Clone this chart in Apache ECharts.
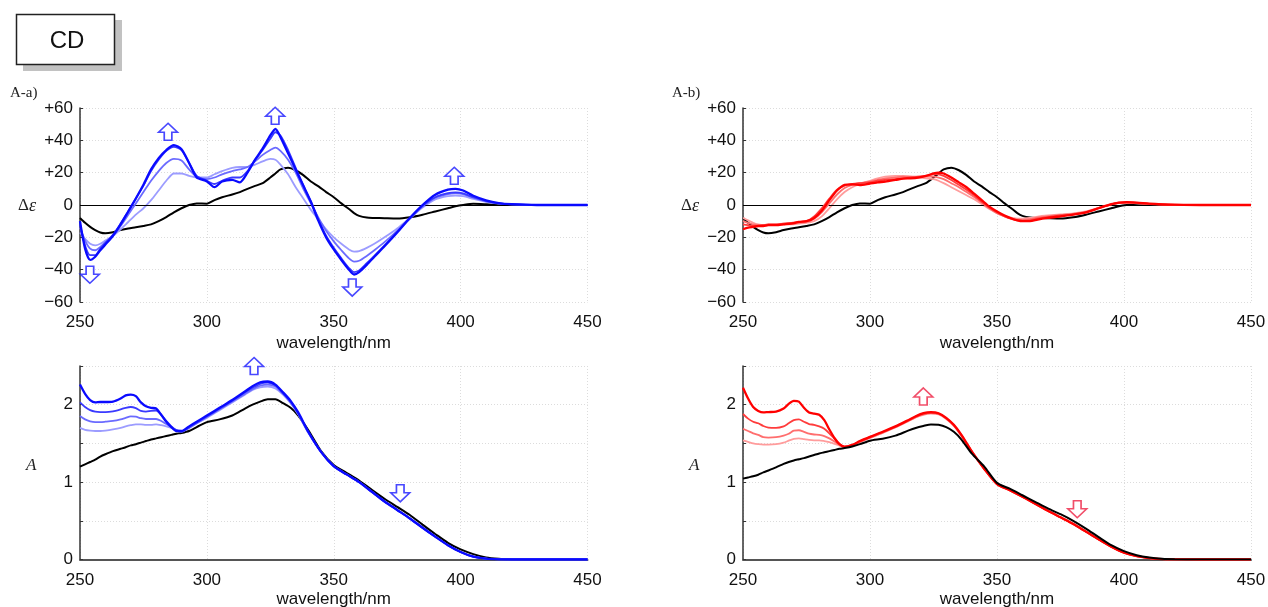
<!DOCTYPE html>
<html><head><meta charset="utf-8">
<script src="https://cdn.jsdelivr.net/npm/echarts@6/dist/echarts.min.js"></script>
<style>html,body{margin:0;padding:0;background:#fff}#c{width:1268px;height:607px}</style>
</head><body><div id="c"></div>
<script>
// ---------- DATA ----------
const wlCD = [250,252,254,256,258,260,263,266,269,272,275,278,281,284,287,290,293,296,300,303,306,310,313,316,319,322,325,327,329,332,335,338,341,344,347,350,353,356,358,360,363,366,370,375,380,385,390,395,398,401,405,410,415,420,430,440,450];
const cdRef = [-8,-11,-13.5,-15.5,-17,-17.5,-16.8,-15.5,-14.5,-13.8,-13,-12,-10,-7.5,-4.5,-2,0,1,0.8,3,4.8,6.5,8,10,11.8,13.5,17,19.5,22,23,21.5,18.5,14.5,11.5,8,4.8,1,-2.5,-5,-6.7,-7.8,-8,-8.2,-8.4,-7.6,-6,-4,-2,-0.8,0,0.7,0.5,0.2,0,0,0,0];
const cdA4 = [-10,-27,-34,-32,-28,-24.5,-19,-12,-4,4,12.5,22,29,34,37,34.5,26,17,14.6,11,14.5,15.6,14,20,28,35,43,47,42,32,22,12,2,-10,-20,-27.5,-34,-40,-43,-41.5,-37,-32,-25.5,-17,-8,0,6.4,9.5,10,9,5.7,2.9,1.2,0.5,0,0,0];
const cdA3 = [-12,-25,-31,-31,-27,-23.5,-18.5,-11.5,-4,4,12,21,28,33.5,36,34,26,18,15,13,15,17,17,21,28,34,41,45,43,34,23,12,2,-9,-19,-26.5,-33,-39,-41.5,-40.5,-36,-31.5,-25,-16.5,-8,-0.5,4.8,7.3,7.8,7.2,4.8,2.5,1,0.4,0,0,0];
const cdA2 = [-14,-22,-27,-28,-26,-23,-19,-13,-6,1,8,15,21,26,28.5,27.5,22,17.5,16,17,19,21,22,23.5,27,31,34,35.5,33.5,28,20,10,1,-8,-16,-22.5,-28,-33,-35,-34.5,-31.5,-28,-23,-16,-8.5,-1,4.5,6.8,7.2,6.8,4.5,2.3,1,0.4,0,0,0];
const cdA1 = [-17,-21,-24,-25,-24,-22,-19,-15,-10.5,-6,-2,3,9,15,19.5,19.5,18,17,17,19,21,23,23.5,23.5,25,27,28.5,28,25,19,11,4,-3,-9,-15,-20,-24,-27.5,-28.8,-28.5,-26.5,-24,-20,-14.5,-8,-1.5,3.5,5.5,5.8,5.5,3.8,2,0.9,0.3,0,0,0];
const cdB4 = [-15,-14,-13.5,-13,-13,-12.5,-12.5,-12,-11.5,-10.5,-10,-8,-3.5,3,9,12.5,12.8,12.3,13.3,14,14.5,15.5,16.3,16.5,17,18,19.5,20,19.5,17,14,11,7,3,-1,-4,-6.5,-8.5,-9.5,-10,-10,-9,-8,-7,-6,-4.6,-2,0.5,1.5,1.8,1.5,0.8,0.4,0.2,0,0,0];
const cdB3 = [-12,-12.5,-13,-13,-12.5,-12,-12,-11.5,-11,-10.5,-10,-7,-2,4,9.5,12,13,13.5,14,15,15.5,16,16.5,17,17.5,18,19,19,18,15.5,12.5,9.5,6,2,-1.5,-4.5,-7,-8.8,-9.5,-9.8,-9.5,-8.5,-7.5,-6.5,-5.8,-4.5,-2,0.4,1.4,1.6,1.3,0.7,0.3,0.1,0,0,0];
const cdB2 = [-10,-11,-12,-12.5,-12.5,-12,-12,-11.5,-11.5,-11,-10.5,-8.5,-4.5,1,6.5,10.5,12.5,13.5,14.5,15.5,16.5,17,17.5,17.5,17.5,17.5,17.5,17,16,13.5,11,8,5,1.5,-2,-5,-7,-8.5,-9,-9.2,-8.8,-7.8,-7,-6.2,-5.5,-4.2,-1.8,0.4,1.3,1.5,1.2,0.6,0.3,0.1,0,0,0];
const cdB1 = [-8,-9.5,-11,-12,-12.5,-12.5,-12.5,-12,-12,-11.5,-11,-10,-7,-2,3.5,8,11,13,15,16.5,17.5,18,18,17.5,17,16.5,16,15,13.5,11,8.5,6,3.5,0.5,-2.5,-5,-6.8,-8,-8.5,-8.5,-8,-7.2,-6.5,-5.8,-5.2,-4,-1.8,0.3,1.2,1.4,1.1,0.6,0.3,0.1,0,0,0];

const wlAbs = [250,252,254,256,258,260,263,266,268,270,272,274,276,278,280,282,284,286,288,290,293,296,300,305,310,315,318,321,324,327,330,333,336,340,345,350,355,360,365,370,375,380,385,390,395,400,405,410,415,420,430,440,450];
const absARef = [1.20,1.23,1.26,1.29,1.33,1.36,1.40,1.43,1.45,1.475,1.49,1.51,1.53,1.55,1.565,1.58,1.595,1.61,1.625,1.635,1.66,1.71,1.775,1.81,1.86,1.95,2.0,2.04,2.07,2.07,2.02,1.96,1.86,1.67,1.40,1.22,1.12,1.02,0.90,0.785,0.68,0.575,0.45,0.33,0.215,0.13,0.07,0.027,0.01,0.004,0,0,0];
const absATail = [1.39,1.205,1.10,1.0,0.875,0.75,0.64,0.53,0.41,0.295,0.185,0.097,0.036,0.01,0.002,0,0,0,0];
const absA4Head = [2.26,2.14,2.06,2.03,2.035,2.035,2.04,2.08,2.12,2.13,2.11,2.03,1.98,1.96,1.95,1.87,1.78,1.71,1.66,1.66,1.72,1.78,1.86,1.96,2.06,2.17,2.24,2.29,2.30,2.26,2.16,2.05,1.90,1.65];
const absA3Head = [2.03,1.97,1.93,1.91,1.905,1.905,1.915,1.94,1.96,1.97,1.955,1.92,1.91,1.92,1.925,1.87,1.79,1.72,1.67,1.655,1.71,1.77,1.85,1.95,2.05,2.16,2.22,2.27,2.285,2.25,2.15,2.04,1.89,1.645];
const absA2Head = [1.855,1.81,1.785,1.775,1.775,1.78,1.79,1.81,1.83,1.85,1.845,1.825,1.815,1.815,1.815,1.79,1.75,1.71,1.67,1.65,1.70,1.76,1.84,1.94,2.04,2.14,2.20,2.245,2.26,2.235,2.14,2.03,1.88,1.64];
const absA1Head = [1.70,1.675,1.665,1.66,1.66,1.665,1.68,1.70,1.72,1.735,1.745,1.745,1.74,1.74,1.745,1.735,1.72,1.70,1.675,1.66,1.70,1.76,1.83,1.93,2.03,2.13,2.19,2.225,2.235,2.21,2.13,2.02,1.875,1.635];
const absBRef = [1.045,1.06,1.075,1.095,1.125,1.15,1.19,1.235,1.26,1.28,1.295,1.31,1.33,1.35,1.37,1.385,1.40,1.415,1.43,1.44,1.46,1.49,1.535,1.56,1.60,1.665,1.70,1.725,1.745,1.74,1.71,1.65,1.55,1.37,1.20,0.99,0.915,0.83,0.745,0.66,0.585,0.50,0.40,0.29,0.185,0.108,0.056,0.026,0.01,0.004,0,0,0];
const absBTail = [1.17,0.975,0.895,0.81,0.72,0.63,0.545,0.46,0.36,0.26,0.165,0.088,0.043,0.017,0.006,0.002,0,0,0];
const absB4Head = [2.22,2.08,1.97,1.92,1.90,1.905,1.91,1.95,2.01,2.05,2.04,1.96,1.90,1.885,1.87,1.80,1.68,1.57,1.49,1.455,1.48,1.53,1.585,1.65,1.72,1.80,1.85,1.89,1.905,1.89,1.83,1.74,1.61,1.40];
const absB3Head = [1.88,1.82,1.78,1.76,1.725,1.705,1.70,1.72,1.76,1.80,1.81,1.78,1.75,1.74,1.72,1.69,1.63,1.56,1.49,1.46,1.48,1.525,1.58,1.645,1.715,1.795,1.845,1.88,1.895,1.885,1.825,1.735,1.605,1.40];
const absB2Head = [1.69,1.66,1.63,1.61,1.58,1.575,1.58,1.60,1.625,1.665,1.67,1.65,1.625,1.615,1.61,1.595,1.565,1.525,1.48,1.455,1.475,1.52,1.575,1.64,1.71,1.79,1.84,1.875,1.89,1.88,1.82,1.73,1.60,1.40];
const absB1Head = [1.54,1.52,1.50,1.49,1.485,1.485,1.49,1.51,1.535,1.56,1.565,1.555,1.545,1.54,1.54,1.53,1.515,1.495,1.47,1.45,1.47,1.515,1.57,1.635,1.705,1.785,1.835,1.87,1.885,1.875,1.815,1.725,1.595,1.40];

const xTicks = [250, 300, 350, 400, 450];
// change arrows: [wavelength, value, direction]
const arrowsCDa = [[253.9,-43.1,'down'],[284.7,45.3,'up'],[326.9,55.2,'up'],[357.3,-51.1,'down'],[397.5,18.1,'up']];
const arrowsAbsA = [[318.6,2.5,'up'],[376.2,0.855,'down']];
const arrowsAbsB = [[321,2.107,'up'],[381.6,0.65,'down']];

// ---------- BUILD ----------
const SANS = '"Liberation Sans", Arial, sans-serif';
const SERIF = '"Liberation Serif", "Times New Roman", serif';
const blues = ['#9c9cff','#6b6bff','#3a3aff','#0a0aff'];
const reds = ['#ff9c9c','#ff6e6e','#ff3c3c','#ff0000'];
const pairs = (xs, ys) => xs.map((x, i) => [x, ys[i]]);

function line(idx, xs, ys, color, width, z) {
  return { type: 'line', xAxisIndex: idx, yAxisIndex: idx, data: pairs(xs, ys),
    symbol: 'none', showSymbol: false, smooth: 0.25, animation: false, silent: true, z: z || 2,
    lineStyle: { color: color, width: width } };
}
const arrowPath = 'path://M10,0 L20,9 L14,9 L14,17 L6,17 L6,9 L0,9 Z';
function arrows(idx, list, color) {
  return { type: 'scatter', xAxisIndex: idx, yAxisIndex: idx, clip: false, animation: false, silent: true, z: 10,
    symbol: arrowPath, symbolSize: [19, 17],
    itemStyle: { color: '#fff', borderColor: color, borderWidth: 1.6 },
    data: list.map(a => ({ value: [a[0], a[1]], symbolRotate: a[2] === 'down' ? 180 : 0 })) };
}

const grids = [
  { left: 80, top: 108, width: 507.5, height: 194 },
  { left: 743, top: 108, width: 508, height: 194 },
  { left: 80, top: 366, width: 507.5, height: 193.5 },
  { left: 743, top: 366, width: 508, height: 193.5 }
].map(g => Object.assign({ containLabel: false, outerBoundsMode: 'none', show: false }, g));

const splitLine = { show: true, lineStyle: { color: '#dcdcdc', type: [1, 2], width: 1 } };
function xAx(i, bottom) {
  return { type: 'value', gridIndex: i, min: 250, max: 450, interval: 50,
    name: 'wavelength/nm', nameLocation: 'middle', nameGap: bottom ? 31 : 33,
    nameTextStyle: { fontFamily: SANS, fontSize: 17, color: '#111' },
    axisLine: { show: bottom, onZero: false, lineStyle: { color: '#555', width: 2 } },
    axisTick: { show: false },
    axisLabel: { fontFamily: SANS, fontSize: 17, color: '#111', margin: bottom ? 12 : 12,
      customValues: xTicks },
    splitLine: splitLine };
}
function yCD(i) {
  return { type: 'value', gridIndex: i, min: -60, max: 60, interval: 20,
    axisLine: { show: true, lineStyle: { color: '#333', width: 1.5 } },
    axisTick: { show: true, inside: true, length: 3, lineStyle: { color: '#333' } },
    axisLabel: { fontFamily: SANS, fontSize: 17, color: '#111', margin: 7,
      formatter: v => v > 0 ? '+' + v : (v < 0 ? '\u2212' + Math.abs(v) : '0') },
    splitLine: splitLine };
}
function yAbs(i) {
  return { type: 'value', gridIndex: i, min: 0, max: 2.5, interval: 0.5,
    axisLine: { show: true, lineStyle: { color: '#333', width: 1.5 } },
    axisTick: { show: true, inside: true, length: 3, lineStyle: { color: '#333' } },
    axisLabel: { fontFamily: SANS, fontSize: 17, color: '#111', margin: 7,
      formatter: v => (Math.abs(v - Math.round(v)) < 1e-6 ? String(Math.round(v)) : '') },
    splitLine: splitLine };
}

const zeroLine = { silent: true, symbol: ['none', 'none'], label: { show: false },
  lineStyle: { color: '#000', width: 1, type: 'solid' }, data: [{ yAxis: 0 }], animation: false };

const series = [];
// CD A-a
const s0 = line(0, wlCD, cdRef, '#000', 2, 3); s0.markLine = zeroLine; series.push(s0);
[cdA1, cdA2, cdA3, cdA4].forEach((d, k) => series.push(line(0, wlCD, d, blues[k], k === 3 ? 2.3 : 1.8, 4 + k)));
series.push(arrows(0, arrowsCDa, '#1a1aff'));
// CD A-b
const s1 = line(1, wlCD, cdRef, '#000', 2, 3); s1.markLine = zeroLine; series.push(s1);
[cdB1, cdB2, cdB3, cdB4].forEach((d, k) => series.push(line(1, wlCD, d, reds[k], k === 3 ? 2.3 : 1.8, 4 + k)));
// Abs A-a
series.push(line(2, wlAbs, absARef, '#000', 2, 3));
[absA1Head, absA2Head, absA3Head, absA4Head].forEach((h, k) =>
  series.push(line(2, wlAbs, h.concat(absATail), blues[k], k === 3 ? 2.3 : 1.8, 4 + k)));
series.push(arrows(2, arrowsAbsA, '#1a1aff'));
// Abs A-b
series.push(line(3, wlAbs, absBRef, '#000', 2, 8));
[absB1Head, absB2Head, absB3Head, absB4Head].forEach((h, k) =>
  series.push(line(3, wlAbs, h.concat(absBTail), reds[k], k === 3 ? 2.3 : 1.8, 4 + k)));
series.push(arrows(3, arrowsAbsB, '#ee2244'));

const graphic = [
  { type: 'rect', shape: { x: 23, y: 20, width: 99, height: 51 }, style: { fill: '#c2c2c2' }, silent: true },
  { type: 'rect', shape: { x: 16.5, y: 14.5, width: 98, height: 50 }, style: { fill: '#fff', stroke: '#222', lineWidth: 1.5 }, silent: true },
  { type: 'text', x: 67, y: 41, style: { text: 'CD', font: '24px ' + SANS, fill: '#111', align: 'center', verticalAlign: 'middle' }, silent: true },
  { type: 'text', x: 10, y: 93, style: { text: 'A-a)', font: '15px ' + SERIF, fill: '#222', verticalAlign: 'middle' }, silent: true },
  { type: 'text', x: 672, y: 93, style: { text: 'A-b)', font: '15px ' + SERIF, fill: '#222', verticalAlign: 'middle' }, silent: true },
  { type: 'text', x: 18, y: 206, style: { text: '{a|\u0394}{b|\u03b5}', verticalAlign: 'middle',
      rich: { a: { fontFamily: SERIF, fontSize: 17, fill: '#222' }, b: { fontFamily: SERIF, fontStyle: 'italic', fontSize: 18, fill: '#222' } } }, silent: true },
  { type: 'text', x: 681, y: 206, style: { text: '{a|\u0394}{b|\u03b5}', verticalAlign: 'middle',
      rich: { a: { fontFamily: SERIF, fontSize: 17, fill: '#222' }, b: { fontFamily: SERIF, fontStyle: 'italic', fontSize: 18, fill: '#222' } } }, silent: true },
  { type: 'text', x: 26, y: 466, style: { text: 'A', font: 'italic 17px ' + SERIF, fill: '#222', verticalAlign: 'middle' }, silent: true },
  { type: 'text', x: 689, y: 466, style: { text: 'A', font: 'italic 17px ' + SERIF, fill: '#222', verticalAlign: 'middle' }, silent: true }
];

const chart = echarts.init(document.getElementById('c'), null, { renderer: 'canvas' });
chart.setOption({
  animation: false,
  backgroundColor: '#fff',
  grid: grids,
  xAxis: [xAx(0, false), xAx(1, false), xAx(2, true), xAx(3, true)],
  yAxis: [yCD(0), yCD(1), yAbs(2), yAbs(3)],
  series: series,
  graphic: graphic
});
</script>
</body></html>
